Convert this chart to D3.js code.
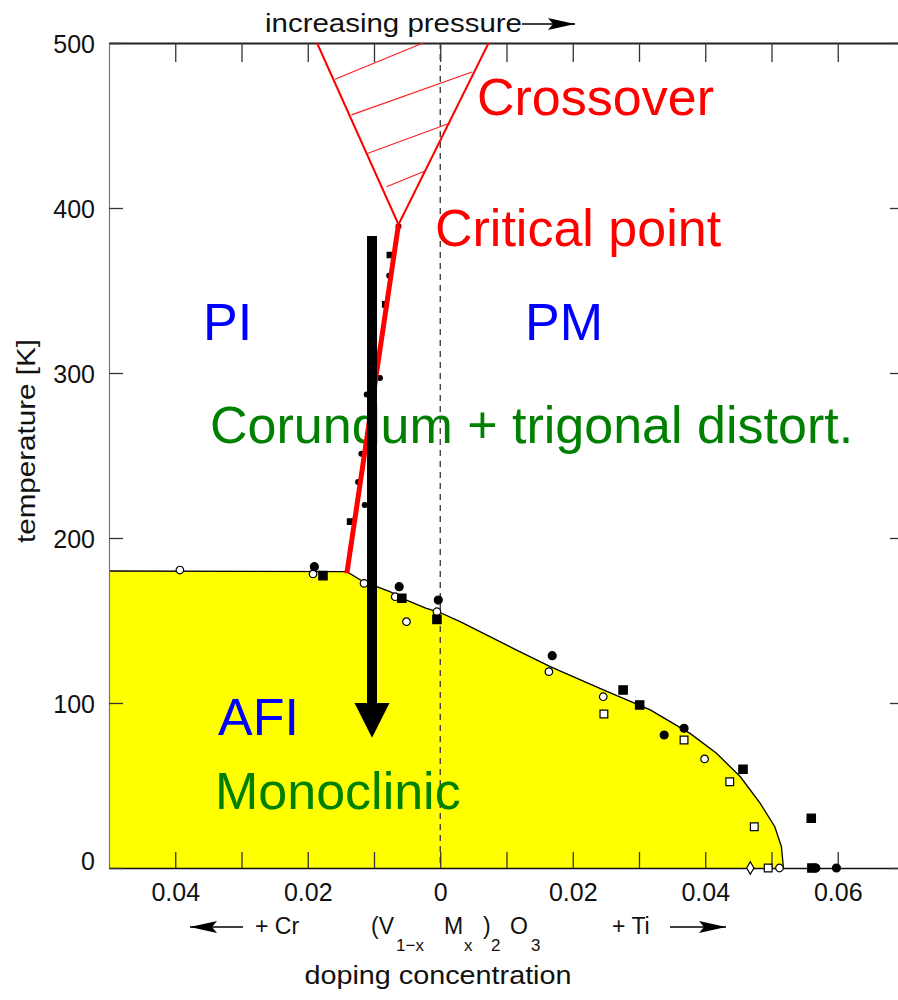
<!DOCTYPE html>
<html>
<head>
<meta charset="utf-8">
<script src="https://cdn.jsdelivr.net/npm/d3@7"></script>
<style>
  body { margin: 0; background: #fff; }
  svg { display: block; font-family: "Liberation Sans", Arial, sans-serif; }
</style>
</head>
<body>
<div class="phase"></div>
<script>
// tick values
const xMinorTicks = [-0.04, -0.03, -0.02, -0.01, 0, 0.01, 0.02, 0.03, 0.04, 0.05, 0.06];
const xLabelTicks = [-0.04, -0.02, 0, 0.02, 0.04, 0.06];
const yTicks = [0, 100, 200, 300, 400, 500];

// AFI / monoclinic phase boundary (doping x, temperature K)
const afiBoundary = [
  { x: -0.05, t: 180 }, { x: -0.0141, t: 179.6 }, { x: -0.0116, t: 173.5 },
  { x: -0.0096, t: 170.5 }, { x: -0.0076, t: 167.5 }, { x: -0.0051, t: 162.4 },
  { x: -0.0021, t: 157.4 }, { x: -0.0003, t: 155.3 }, { x: 0.0030, t: 149.3 },
  { x: 0.0113, t: 132.5 }, { x: 0.0166, t: 122 }, { x: 0.0241, t: 108.9 },
  { x: 0.0317, t: 95.8 }, { x: 0.0377, t: 81.6 }, { x: 0.0417, t: 69.5 },
  { x: 0.0453, t: 55.3 }, { x: 0.0483, t: 39.2 }, { x: 0.0505, t: 25 },
  { x: 0.0515, t: 12.9 }, { x: 0.0518, t: 0 }
];

// first order PI-PM line ending at the critical point
const criticalLine = [{ x: -0.0141, t: 178.6 }, { x: -0.0063, t: 390 }];
const crossoverLeft = [{ x: -0.0063, t: 390 }, { x: -0.0186, t: 500 }];
const crossoverRight = [{ x: -0.0063, t: 390 }, { x: 0.0073, t: 500 }];
const hatchLines = [
  [{ x: -0.0159, t: 478 }, { x: -0.0026, t: 500 }],
  [{ x: -0.0134, t: 456.4 }, { x: 0.0048, t: 482.4 }],
  [{ x: -0.0109, t: 433.2 }, { x: 0.0015, t: 451.5 }],
  [{ x: -0.0081, t: 412.9 }, { x: -0.0022, t: 422.6 }]
];

// pressure arrow
const arrowX = [-0.0103];
const arrowT = [383, 100, 79];

// measured points along the PI-PM line
const lineCircles = [
  { x: -0.0063, t: 389 }, { x: -0.0091, t: 297 }, { x: -0.0111, t: 287 },
  { x: -0.0119, t: 251 }, { x: -0.0124, t: 234 }, { x: -0.0114, t: 220 },
  { x: -0.0077, t: 359 }
];
const lineSquares = [
  { x: -0.0076, t: 371.5 }, { x: -0.0083, t: 341.6 }, { x: -0.0136, t: 209.9 }
];

// measured points at the AFI transition
const filledCircles = [
  { x: -0.0190, t: 182.6 }, { x: -0.0062, t: 170.5 }, { x: -0.0003, t: 162.4 },
  { x: 0.0169, t: 128.7 }, { x: 0.0338, t: 80.6 }, { x: 0.0368, t: 84.7 },
  { x: 0.0567, t: 0 }, { x: 0.0598, t: 0 }
];
const openCircles = [
  { x: -0.0393, t: 180.6 }, { x: -0.0192, t: 178.2 },
  { x: -0.0115, t: 172.5 }, { x: -0.0068, t: 164.4 }, { x: -0.0051, t: 149.3 },
  { x: -0.0005, t: 155.3 }, { x: 0.0164, t: 119 }, { x: 0.0246, t: 103.8 },
  { x: 0.0399, t: 66.1 }, { x: 0.0512, t: 0 }
];
const filledSquares = [
  { x: -0.0177, t: 177.2 }, { x: -0.0058, t: 163.5 }, { x: -0.0005, t: 150.7 },
  { x: 0.0276, t: 107.9 }, { x: 0.0301, t: 98.8 }, { x: 0.0457, t: 59.8 },
  { x: 0.0560, t: 30.1 }, { x: 0.0561, t: 0 }
];
const openSquares = [
  { x: 0.0247, t: 93.3 }, { x: 0.0368, t: 77.6 }, { x: 0.0437, t: 52.3 },
  { x: 0.0474, t: 25 }, { x: 0.0495, t: 0 }
];
const openDiamonds = [{ x: 0.0468, t: 0 }];

let svg = d3.select('.phase')
  .append('svg')
  .attr('width', 898)
  .attr('height', 1000);

let x = d3.scaleLinear().domain([-0.05, 0.07]).range([109, 904]);
let y = d3.scaleLinear().domain([0, 500]).range([868, 43]);

let line = d3.line().x(d => x(d.x)).y(d => y(d.t));

// yellow AFI region
svg.append('path')
  .attr('d', d3.area().x(d => x(d.x)).y0(y(0)).y1(d => y(d.t))(afiBoundary))
  .attr('fill', '#ffff00');

svg.append('path')
  .attr('d', line(afiBoundary))
  .attr('fill', 'none')
  .attr('stroke', '#000')
  .attr('stroke-width', 1.3);

// x = 0 dashed line
svg.append('line')
  .attr('x1', x(0)).attr('x2', x(0))
  .attr('y1', y(500)).attr('y2', y(0))
  .attr('stroke', '#333')
  .attr('stroke-width', 1.3)
  .attr('stroke-dasharray', '6,5');

// axes
function styleAxis(g, col, w) {
  g.select('.domain').attr('stroke', col).attr('stroke-width', w);
  g.selectAll('.tick line').attr('stroke', '#333').attr('stroke-width', 1.3);
  g.attr('font-family', null).attr('font-size', 25);
  g.selectAll('text').attr('fill', '#111');
}

svg.append('g')
  .attr('transform', `translate(0,${y(0)})`)
  .call(d3.axisBottom(x).tickValues(xMinorTicks).tickSizeInner(-16).tickSizeOuter(0).tickFormat(''))
  .call(g => styleAxis(g, '#111', 1.6));

svg.append('g')
  .attr('transform', `translate(0,${y(0)})`)
  .call(d3.axisBottom(x).tickValues(xLabelTicks).tickSize(0).tickPadding(15)
    .tickFormat(d => String(+Math.abs(d).toFixed(2))))
  .call(g => styleAxis(g, '#111', 1.6))
  .call(g => g.select('.domain').remove());

svg.append('g')
  .attr('transform', `translate(0,${y(500)})`)
  .call(d3.axisTop(x).tickValues(xMinorTicks).tickSizeInner(-19).tickSizeOuter(0).tickFormat(''))
  .call(g => styleAxis(g, '#222', 2));

svg.append('g')
  .attr('transform', `translate(${x(-0.05)},0)`)
  .call(d3.axisLeft(y).tickValues(yTicks).tickSizeInner(-14).tickSizeOuter(0).tickPadding(14))
  .call(g => styleAxis(g, '#777', 1.2))
  .call(g => g.selectAll('.tick text').attr('dy', d => d === 0 ? '0.05em' : '0.36em'));

svg.append('g')
  .attr('transform', `translate(${x(0.07)},0)`)
  .call(d3.axisRight(y).tickValues(yTicks).tickSizeInner(-14).tickSizeOuter(0).tickFormat(''))
  .call(g => styleAxis(g, '#777', 1.2));

// measured points
function addPoints(data, type, size, fill) {
  svg.append('g')
    .selectAll('path')
    .data(data)
    .join('path')
    .attr('d', d3.symbol().type(type).size(size))
    .attr('transform', d => `translate(${x(d.x)},${y(d.t)})`)
    .attr('fill', fill)
    .attr('stroke', '#000')
    .attr('stroke-width', 1.2);
}
addPoints(openCircles, d3.symbolCircle, 45, '#fff');
addPoints(openSquares, d3.symbolSquare, 60, '#fff');
addPoints(openDiamonds, d3.symbolDiamond, 45, '#fff');
addPoints(filledCircles, d3.symbolCircle, 50, '#000');
addPoints(filledSquares, d3.symbolSquare, 70, '#000');
addPoints(lineCircles, d3.symbolCircle, 18, '#000');
addPoints(lineSquares, d3.symbolSquare, 30, '#000');

// region labels
function label(txt, px, py, col) {
  svg.append('text')
    .attr('x', px).attr('y', py)
    .attr('font-size', 52)
    .attr('fill', col)
    .text(txt);
}
label('Crossover', 477, 115, '#ff0000');
label('Critical point', 435, 246, '#ff0000');
label('PI', 203, 340, '#0000ff');
label('PM', 525, 340, '#0000ff');
label('Corundum + trigonal distort.', 210, 443, '#008000');
label('AFI', 218, 735, '#0000ff');
label('Monoclinic', 215, 809, '#008000');

// crossover region and critical line
svg.append('g')
  .selectAll('path')
  .data(hatchLines)
  .join('path')
  .attr('d', line)
  .attr('stroke', '#ff2020')
  .attr('stroke-width', 1.2)
  .attr('fill', 'none');

[crossoverLeft, crossoverRight].forEach(seg => {
  svg.append('path')
    .attr('d', line(seg))
    .attr('stroke', '#ff0000')
    .attr('stroke-width', 2)
    .attr('fill', 'none');
});

svg.append('path')
  .attr('d', line(criticalLine))
  .attr('stroke', '#ff0000')
  .attr('stroke-width', 5)
  .attr('fill', 'none');

// big black arrow
let ax = x(arrowX[0]);
svg.append('line')
  .attr('x1', ax).attr('x2', ax)
  .attr('y1', y(arrowT[0])).attr('y2', y(arrowT[1]) + 1)
  .attr('stroke', '#000')
  .attr('stroke-width', 10);
svg.append('path')
  .attr('d', `M${ax - 17.5},${y(arrowT[1])}L${ax + 17.5},${y(arrowT[1])}L${ax},${y(arrowT[2])}Z`)
  .attr('fill', '#000');

// small arrows
function smallArrow(x1, x2, yy) {
  let dir = Math.sign(x2 - x1);
  svg.append('line')
    .attr('x1', x1).attr('x2', x2).attr('y1', yy).attr('y2', yy)
    .attr('stroke', '#000').attr('stroke-width', 1.6);
  svg.append('path')
    .attr('d', `M${x2},${yy}L${x2 - dir * 27},${yy - 6}L${x2 - dir * 22},${yy}L${x2 - dir * 27},${yy + 6}Z`)
    .attr('fill', '#000');
}

// axis titles and annotations
svg.append('text')
  .attr('x', 265).attr('y', 32)
  .attr('font-size', 26)
  .attr('textLength', 257).attr('lengthAdjust', 'spacingAndGlyphs')
  .attr('fill', '#111')
  .text('increasing pressure');
smallArrow(522, 575, 24);

svg.append('text')
  .attr('transform', 'translate(35,441) rotate(-90)')
  .attr('text-anchor', 'middle')
  .attr('font-size', 25)
  .attr('textLength', 204).attr('lengthAdjust', 'spacingAndGlyphs')
  .attr('fill', '#111')
  .text('temperature [K]');

svg.append('text')
  .attr('x', 438).attr('y', 984)
  .attr('text-anchor', 'middle')
  .attr('font-size', 25)
  .attr('textLength', 267).attr('lengthAdjust', 'spacingAndGlyphs')
  .attr('fill', '#111')
  .text('doping concentration');

smallArrow(243, 190, 927);
smallArrow(670, 726, 927);

function small(txt, px, py, fs) {
  svg.append('text')
    .attr('x', px).attr('y', py)
    .attr('font-size', fs)
    .attr('fill', '#111')
    .text(txt);
}
small('+ Cr', 255, 934, 23);
small('+ Ti', 612, 934, 23);
small('(V', 371, 934, 23);
small('1\u2212x', 396, 951, 17);
small('M', 444, 934, 23);
small('x', 464, 951, 17);
small(')', 483, 934, 23);
small('2', 491, 951, 17);
small('O', 510, 934, 23);
small('3', 531, 951, 17);
</script>
</body>
</html>
